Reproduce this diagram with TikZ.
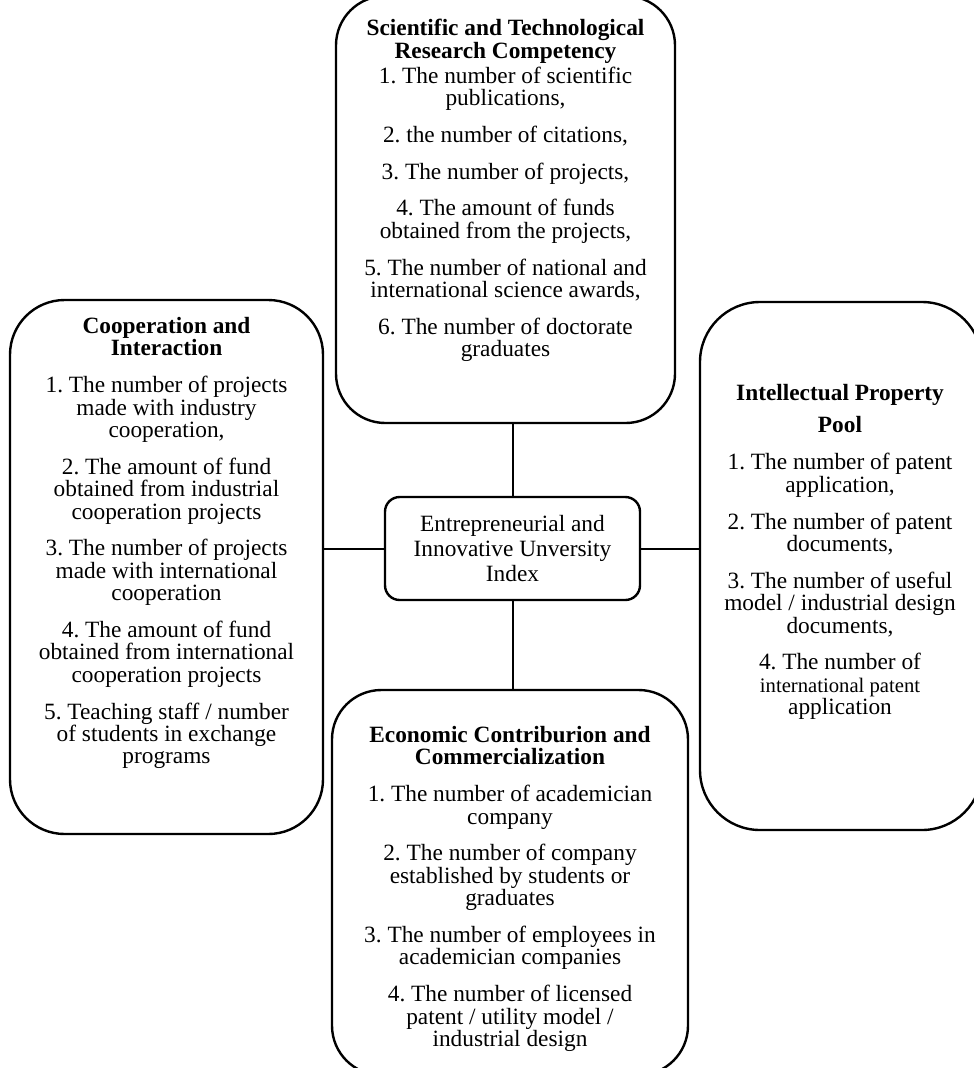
\documentclass[tikz,border=0pt]{standalone}
\usepackage{fontspec}
\setmainfont{Liberation Serif}
\usetikzlibrary{positioning}

\begin{document}
\lineskiplimit=-8pt
\frenchspacing
\begin{tikzpicture}[x=0.75pt,y=-0.75pt,
  box/.style={draw,line width=1.8pt,rounded corners=#1,inner sep=0pt},
  txt/.style={anchor=north,align=center,inner sep=0pt,
    font=\fontsize{17.5}{16.8}\selectfont},
  link/.style={line width=1.5pt}]
\clip (0,0) rectangle (974,1068);
% the four groups
\node[box=37pt,minimum width=254.25pt,minimum height=320.25pt] (sci) at (505.5,209.5) {};
\node[box=41pt,minimum width=234.75pt,minimum height=400.5pt] (coop) at (166.5,567) {};
\node[box=45pt,minimum width=211.5pt,minimum height=396pt] (ip) at (841,566) {};
\node[box=37pt,minimum width=267pt,minimum height=288.75pt] (econ) at (510,882.5) {};
% index in the middle
\node[box=11pt,minimum width=191.25pt,minimum height=77.25pt,align=center,
  font=\fontsize{17.5}{19}\selectfont] (index) at (512.5,548.5)
  {Entrepreneurial and\\Innovative Unversity\\Index};

\node[txt] (scitxt) at (505.5,19) {\textbf{Scientific and Technological}\\
\textbf{Research Competency}\\[2pt]
1. The number of scientific\\publications,\\[10.8pt]
2. the number of citations,\\[10.8pt]
3. The number of projects,\\[10.8pt]
4. The amount of funds\\obtained from the projects,\\[10.8pt]
5. The number of national and\\international science awards,\\[10.8pt]
6. The number of doctorate\\graduates};

\node[txt] (cooptxt) at (166.5,317) {\textbf{Cooperation and}\\
\textbf{Interaction}\\[10.8pt]
1. The number of projects\\made with industry\\cooperation,\\[10.8pt]
2. The amount of fund\\obtained from industrial\\cooperation projects\\[10.8pt]
3. The number of projects\\made with international\\cooperation\\[10.8pt]
4. The amount of fund\\obtained from international\\cooperation projects\\[10.8pt]
5. Teaching staff / number\\of students in exchange\\programs};

\node[txt] (iptxt) at (840,384) {\textbf{Intellectual Property}\\[7.5pt]
\textbf{Pool}\\[11pt]
1. The number of patent\\application,\\[10.8pt]
2. The number of patent\\documents,\\[10.8pt]
3. The number of useful\\model / industrial design\\documents,\\[10.8pt]
4. The number of\\{\fontsize{15.5}{16.8}\selectfont international patent}\\application};

\node[txt] (econtxt) at (510,726) {\textbf{Economic Contriburion and}\\
\textbf{Commercialization}\\[10.8pt]
1. The number of academician\\company\\[10.8pt]
2. The number of company\\established by students or\\graduates\\[10.8pt]
3. The number of employees in\\academician companies\\[10.8pt]
4. The number of licensed\\patent / utility model /\\industrial design};

% links to the index
\draw[link] (index.north) -- (index.north |- sci.south);
\draw[link] (index.south) -- (index.south |- econ.north);
\draw[link] (index.west) -- (index.west -| coop.east);
\draw[link] (index.east) -- (index.east -| ip.west);
\end{tikzpicture}
\end{document}
